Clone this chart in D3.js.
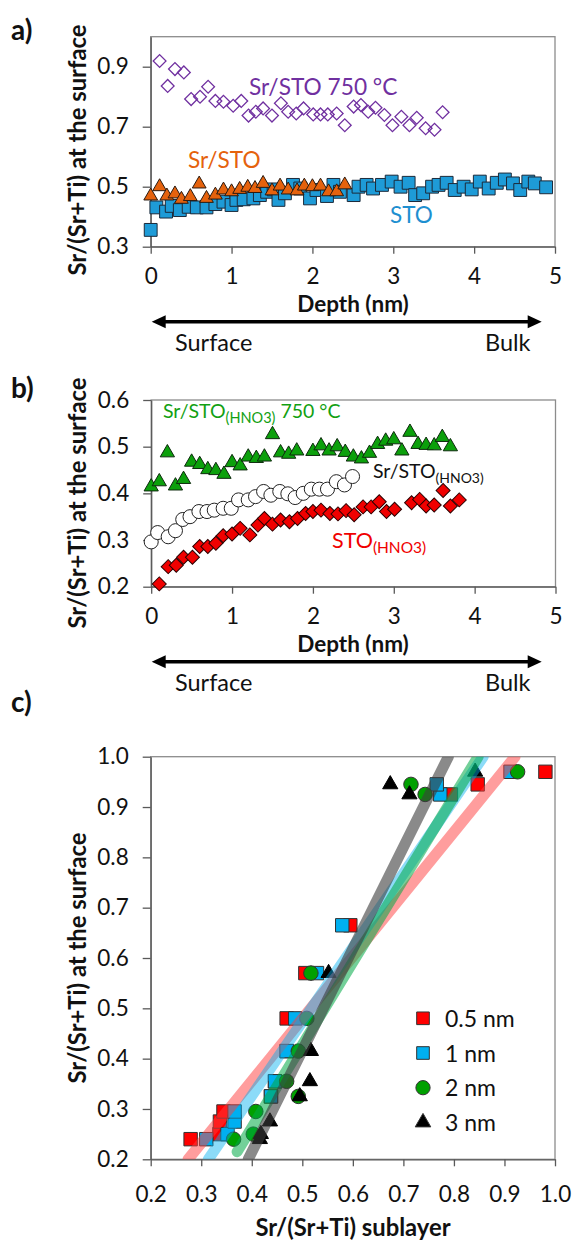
<!DOCTYPE html>
<html><head><meta charset="utf-8">
<script src="https://cdn.jsdelivr.net/npm/d3@7"></script>
<style>
body{margin:0;background:#fff;}
svg{display:block;font-family:Lato,"Open Sans",sans-serif;}
</style></head>
<body>
<svg id="c" width="575" height="1242"></svg>
<script>
// ---------- Panel a data ----------
const stoX = [0,0.07,0.19,0.26,0.36,0.47,0.57,0.69,0.80,0.90,1.00,1.06,1.15,1.27,1.35,1.44,1.52,1.58,1.66,1.76,1.85,1.97,2.05,2.18,2.26,2.34,2.51,2.57,2.67,2.75,2.86,2.98,3.09,3.19,3.27,3.37,3.48,3.56,3.66,3.76,3.87,3.97,4.07,4.18,4.28,4.38,4.48,4.57,4.67,4.75,4.89];
const stoY = [0.356,0.431,0.417,0.436,0.422,0.433,0.431,0.431,0.442,0.45,0.439,0.456,0.458,0.461,0.472,0.483,0.491,0.456,0.478,0.506,0.494,0.461,0.489,0.469,0.506,0.483,0.472,0.5,0.506,0.494,0.506,0.517,0.5,0.513,0.472,0.478,0.5,0.506,0.513,0.489,0.5,0.491,0.517,0.494,0.513,0.524,0.511,0.489,0.517,0.511,0.498];
const srStoX = [0,0.11,0.2,0.3,0.38,0.49,0.6,0.69,0.8,0.9,1.0,1.1,1.2,1.29,1.39,1.5,1.6,1.7,1.81,1.9,2.0,2.1,2.2,2.3,2.4];
const srStoY = [0.469,0.5,0.469,0.476,0.458,0.467,0.509,0.461,0.472,0.489,0.483,0.491,0.498,0.494,0.511,0.486,0.502,0.489,0.486,0.502,0.5,0.502,0.483,0.483,0.506];
const sr750X = [0.11,0.21,0.30,0.41,0.50,0.61,0.71,0.80,0.90,1.02,1.12,1.21,1.30,1.39,1.50,1.61,1.70,1.80,1.89,2.01,2.10,2.19,2.30,2.40,2.51,2.60,2.69,2.78,2.89,2.99,3.10,3.20,3.29,3.40,3.51,3.61];
const sr750Y = [0.919,0.836,0.892,0.881,0.792,0.8,0.833,0.786,0.783,0.77,0.786,0.737,0.75,0.761,0.737,0.778,0.75,0.744,0.761,0.741,0.741,0.741,0.744,0.705,0.767,0.772,0.75,0.763,0.739,0.705,0.733,0.705,0.73,0.695,0.69,0.748];
const depthTicks = [0,1,2,3,4,5];
const yTicksA = [0.3,0.5,0.7,0.9];

// ---------- Panel b data ----------
const hno750X = [0,0.1,0.2,0.3,0.4,0.5,0.6,0.7,0.8,0.9,1.0,1.1,1.2,1.3,1.4,1.5,1.6,1.7,1.8,2.0,2.1,2.2,2.3,2.4,2.5,2.6,2.7,2.8,2.9,3.0,3.1,3.2,3.3,3.4,3.5,3.6,3.7];
const hno750Y = [0.414,0.425,0.487,0.416,0.43,0.467,0.462,0.451,0.449,0.441,0.466,0.459,0.478,0.475,0.478,0.526,0.487,0.484,0.491,0.49,0.502,0.491,0.5,0.488,0.478,0.474,0.486,0.505,0.512,0.515,0.491,0.531,0.505,0.503,0.502,0.52,0.5];
const srHnoX = [0,0.08,0.21,0.3,0.39,0.48,0.59,0.69,0.78,0.89,0.99,1.08,1.2,1.29,1.39,1.48,1.59,1.69,1.78,1.88,1.98,2.08,2.18,2.29,2.39,2.49];
const srHnoY = [0.296,0.316,0.307,0.32,0.344,0.35,0.361,0.361,0.364,0.368,0.368,0.386,0.386,0.393,0.404,0.396,0.404,0.399,0.391,0.4,0.409,0.409,0.409,0.425,0.418,0.436];
const stoHnoX = [0.1,0.21,0.31,0.4,0.51,0.6,0.7,0.8,0.89,1.0,1.1,1.22,1.32,1.4,1.5,1.6,1.71,1.81,1.91,2.0,2.1,2.21,2.31,2.41,2.51,2.62,2.72,2.82,2.91,3.01,3.22,3.32,3.4,3.5,3.61,3.7,3.81];
const stoHnoY = [0.206,0.243,0.246,0.263,0.263,0.286,0.286,0.293,0.309,0.313,0.325,0.311,0.332,0.346,0.334,0.343,0.339,0.346,0.357,0.361,0.364,0.357,0.356,0.363,0.354,0.371,0.371,0.382,0.361,0.366,0.38,0.387,0.373,0.375,0.406,0.373,0.386];
const yTicksB = [0.2,0.3,0.4,0.5,0.6];

// ---------- Panel c data ----------
const c05X = [0.279,0.336,0.337,0.344,0.438,0.446,0.469,0.469,0.506,0.595,0.794,0.847,0.981];
const c05Y = [0.24,0.25,0.275,0.295,0.325,0.355,0.415,0.48,0.57,0.665,0.925,0.945,0.97];
const c1X = [0.31,0.352,0.366,0.366,0.438,0.446,0.469,0.486,0.529,0.579,0.773,0.766,0.912];
const c1Y = [0.24,0.25,0.275,0.295,0.325,0.355,0.415,0.48,0.57,0.665,0.925,0.945,0.97];
const c2X = [0.364,0.403,0.408,0.492,0.469,0.492,0.509,0.517,0.743,0.715,0.926];
const c2Y = [0.24,0.25,0.295,0.325,0.355,0.415,0.48,0.57,0.925,0.945,0.97];
const c3X = [0.416,0.418,0.436,0.495,0.515,0.517,0.552,0.712,0.674,0.842];
const c3Y = [0.24,0.25,0.275,0.325,0.355,0.415,0.57,0.925,0.945,0.97];
const fitNames = ["0.5 nm","1 nm","2 nm","3 nm"];
const fitXStart = [0.274,0.314,0.371,0.393];
const fitYStart = [0.2,0.2,0.215,0.2];
const fitXEnd = [0.921,0.858,0.848,0.789];
const fitYEnd = [1.0,1.0,1.0,1.0];
const ticksC = [0.2,0.3,0.4,0.5,0.6,0.7,0.8,0.9,1.0];

// ---------- drawing ----------
const svg = d3.select("#c");
const FONT = 'Lato,"Open Sans",sans-serif';
const TICK_FS = 22.5, TITLE_FS = 23.8;
const zip = (xs, ys) => xs.map((x,i)=>[x, ys[i]]);

function frame(g, x, y, xt, yt, yfmt, xfmt, xpad){
  const [x0,x1] = x.range(), [y0,y1] = y.range();
  g.append("rect").attr("x",x0).attr("y",y1).attr("width",x1-x0).attr("height",y0-y1)
    .attr("fill","none").attr("stroke","#8c8c8c").attr("stroke-width",1.3);
  const ya = g.append("g").attr("transform",`translate(${x0},0)`)
    .call(d3.axisLeft(y).tickValues(yt).tickFormat(yfmt).tickSizeInner(8).tickSizeOuter(0).tickPadding(14));
  const xa = g.append("g").attr("transform",`translate(0,${y0})`)
    .call(d3.axisBottom(x).tickValues(xt).tickFormat(xfmt).tickSizeInner(7).tickSizeOuter(0).tickPadding(xpad));
  [ya,xa].forEach(a=>{
    a.selectAll("path").attr("stroke","#595959").attr("stroke-width",1.3);
    a.selectAll("line").attr("stroke","#595959").attr("stroke-width",1.3);
    a.selectAll("text").attr("font-family",FONT).attr("font-size",TICK_FS).attr("fill","#111");
  });
}

function sym(g, data, x, y, type, size, fill, stroke, sw, rot){
  g.append("g").selectAll("path").data(data).join("path")
    .attr("d", d3.symbol().type(type).size(size))
    .attr("transform", d=>`translate(${x(d[0])},${y(d[1])})${rot?` rotate(${rot})`:""}`)
    .attr("fill", fill).attr("stroke", stroke).attr("stroke-width", sw);
}

function yTitle(cx, cy){
  svg.append("text").attr("transform",`translate(${cx},${cy}) rotate(-90)`)
    .attr("text-anchor","middle").attr("font-family",FONT).attr("font-weight","bold")
    .attr("font-size",TITLE_FS).attr("fill","#111").text("Sr/(Sr+Ti) at the surface");
}
function xTitle(t, y, fs){
  svg.append("text").attr("x",353).attr("y",y).attr("text-anchor","middle").attr("font-family",FONT)
    .attr("font-weight","bold").attr("font-size",fs).attr("fill","#111").text(t);
}
function panelLabel(t, x, y){
  svg.append("text").attr("x",x).attr("y",y).attr("font-family",FONT).attr("font-weight","bold")
    .attr("font-size",28).attr("fill","#111").text(t);
}
function arrow(x0, x1, y){
  const g = svg.append("g");
  g.append("line").attr("x1",x0+12).attr("x2",x1-12).attr("y1",y).attr("y2",y)
    .attr("stroke","#000").attr("stroke-width",3.5);
  g.append("path").attr("d",`M${x0},${y} L${x0+14},${y-6.5} L${x0+14},${y+6.5} Z`).attr("fill","#000");
  g.append("path").attr("d",`M${x1},${y} L${x1-14},${y-6.5} L${x1-14},${y+6.5} Z`).attr("fill","#000");
}
function ends(y){
  svg.append("text").attr("x",175).attr("y",y).attr("font-family",FONT).attr("font-size",23.5).attr("fill","#111").text("Surface");
  svg.append("text").attr("x",485).attr("y",y).attr("font-family",FONT).attr("font-size",23.5).attr("fill","#111").text("Bulk");
}
function label(x, y, parts, color, size, subSize){
  const t = svg.append("text").attr("x",x).attr("y",y).attr("font-family",FONT)
    .attr("font-size",size).attr("fill",color);
  parts.forEach(p=>{
    const ts = t.append("tspan").text(p.t);
    if(p.sub){ ts.attr("font-size",subSize).attr("dy",5); }
    else if(p.up){ ts.attr("dy",-5); }
  });
}

// ===== Panel a =====
const xA = d3.scaleLinear().domain([0,5]).range([150.7,555]);
const yA = d3.scaleLinear().domain([0.3,1.0]).range([246.7,36.7]);
const gA = svg.append("g");
frame(gA, xA, yA, depthTicks, yTicksA, d3.format(".1f"), d3.format("d"), 14);
sym(gA, zip(sr750X,sr750Y), xA, yA, d3.symbolSquare, 82, "none", "#7030A0", 1.3, 45);
sym(gA, zip(stoX,stoY), xA, yA, d3.symbolSquare, 165, "#1E9BD7", "#1c2a3a", 1, 0);
sym(gA, zip(srStoX,srStoY), xA, yA, d3.symbolTriangle, 82, "#E5620D", "#2a1a10", 1, 0);
label(249, 95, [{t:"Sr/STO 750 °C"}], "#7030A0", 22.7);
label(188, 168, [{t:"Sr/STO"}], "#E5620D", 22.6);
label(390, 223, [{t:"STO"}], "#1E8FD0", 22.5);
xTitle("Depth (nm)", 311.5, 22.5);
arrow(151.7, 541.7, 321.7);
ends(351);
yTitle(86, 150);
panelLabel("a)", 11, 40);

// ===== Panel b =====
const xB = d3.scaleLinear().domain([0,5]).range([151.2,555.5]);
const yB = d3.scaleLinear().domain([0.2,0.6]).range([586.7,400]);
const gB = svg.append("g");
frame(gB, xB, yB, depthTicks, yTicksB, d3.format(".1f"), d3.format("d"), 14);
sym(gB, zip(hno750X,hno750Y), xB, yB, d3.symbolTriangle, 88, "#0CA00C", "#0d2a0d", 1, 0);
sym(gB, zip(srHnoX,srHnoY), xB, yB, d3.symbolCircle, 155, "#fff", "#222", 1, 0);
sym(gB, zip(stoHnoX,stoHnoY), xB, yB, d3.symbolSquare, 98, "#F00000", "#2a0000", 1, 45);
label(163, 418, [{t:"Sr/STO"},{t:"(HNO3)",sub:true},{t:" 750 °C",up:true}], "#12A012", 19.5, 14.5);
label(373, 478, [{t:"Sr/STO"},{t:"(HNO3)",sub:true}], "#111", 19.5, 14);
label(332, 548, [{t:"STO"},{t:"(HNO3)",sub:true}], "#F00000", 21.5, 15.5);
xTitle("Depth (nm)", 651.5, 22.5);
arrow(151.7, 541.7, 661.7);
ends(691);
yTitle(86, 503);
panelLabel("b)", 11, 398);

// ===== Panel c =====
const xC = d3.scaleLinear().domain([0.2,1.0]).range([150.7,555]);
const yC = d3.scaleLinear().domain([0.2,1.0]).range([1159.3,756.7]);
const gC = svg.append("g");
frame(gC, xC, yC, ticksC, ticksC, d3.format(".1f"), d3.format(".1f"), 20);
svg.append("defs").append("clipPath").attr("id","clipC").append("rect")
  .attr("x",150.7).attr("y",756.7).attr("width",404.3).attr("height",402.6);
const cColors = ["#FF0000","#00B0F0","#00A000","#000000"];
sym(gC, zip(c05X,c05Y), xC, yC, d3.symbolSquare, 180, cColors[0], "#333", 1, 0);
sym(gC, zip(c1X,c1Y), xC, yC, d3.symbolSquare, 180, cColors[1], "#333", 1, 0);
sym(gC, zip(c2X,c2Y), xC, yC, d3.symbolCircle, 165, cColors[2], "#333", 1, 0);
sym(gC, zip(c3X,c3Y), xC, yC, d3.symbolTriangle, 100, cColors[3], "#000", 1, 0);
const fitColors = ["rgba(255,60,60,0.5)","rgba(0,176,240,0.45)","rgba(0,170,70,0.55)","rgba(60,60,60,0.6)"];
const fitG = gC.append("g").attr("clip-path","url(#clipC)");
fitNames.forEach((n,i)=>{
  fitG.append("path").datum([[fitXStart[i],fitYStart[i]],[fitXEnd[i],fitYEnd[i]]])
    .attr("d", d3.line().x(d=>xC(d[0])).y(d=>yC(d[1])))
    .attr("stroke", fitColors[i]).attr("stroke-width",11).attr("stroke-linecap","round").attr("fill","none");
});
// legend
const legY = [1018.3,1053,1087.7,1122.4];
const legTypes = [d3.symbolSquare,d3.symbolSquare,d3.symbolCircle,d3.symbolTriangle];
const legSizes = [160,160,160,105];
fitNames.forEach((n,i)=>{
  svg.append("path").attr("d",d3.symbol().type(legTypes[i]).size(legSizes[i]))
    .attr("transform",`translate(423,${legY[i]})`).attr("fill",cColors[i]).attr("stroke","#333").attr("stroke-width",1);
  svg.append("text").attr("x",445).attr("y",legY[i]+8.5).attr("font-family",FONT).attr("font-size",23)
    .attr("fill","#111").text(n);
});
xTitle("Sr/(Sr+Ti) sublayer", 1236, TITLE_FS);
yTitle(86, 958);
panelLabel("c)", 11, 712);
</script>
</body></html>
